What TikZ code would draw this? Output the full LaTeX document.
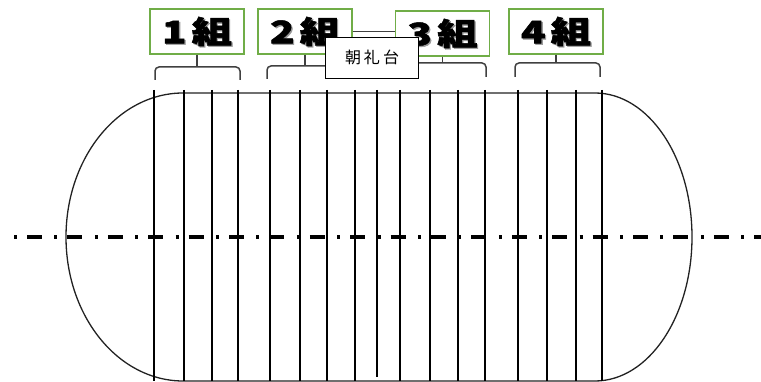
\documentclass[tikz,border=0pt]{standalone}
\usepackage{fontspec}
\newfontfamily\cjk{Noto Sans CJK JP}
\definecolor{boxgreen}{HTML}{70AD47}
\definecolor{brk}{HTML}{404040}
\definecolor{trackc}{HTML}{222222}
\newcommand{\grplabel}[1]{\scalebox{1.3}[1]{\cjk\bfseries\addfontfeatures{FakeBold=1.6}\fontsize{31}{31}\selectfont #1}}
\begin{document}
\begin{tikzpicture}[x=1pt,y=-1pt,
  grp/.style={draw=boxgreen,line width=1.2pt,fill=white,minimum width=94pt,minimum height=45pt,inner sep=0pt},
  stagebox/.style={draw=black,line width=0.8pt,fill=white,minimum width=93pt,minimum height=41pt,inner sep=0pt,font=\cjk\fontsize{16}{16}\selectfont},
  lane/.style={line width=2.8pt,black},
  thinlane/.style={line width=1.5pt,black},
  bracestyle/.style={draw=brk,line width=1.5pt,rounded corners=4pt},
  track/.style={draw=trackc,line width=1.3pt},
  centerline/.style={line width=3.5pt,black,dash pattern=on 3pt off 10pt on 15pt off 12.4pt}
]
\useasboundingbox (0,0) rectangle (761,382);

% track outline
\draw[track] (183,93) -- (595,93)
  arc[start angle=-90,end angle=90,x radius=97,y radius=144]
  -- (183,381)
  arc[start angle=90,end angle=270,x radius=117,y radius=144] -- cycle;

% lanes
\foreach \x in {154,184,212,238,270,300,327,355,400,430,458,485,518,547,576,602}
  \draw[lane] (\x,90) -- (\x,381);
\draw[thinlane] (377,90) -- (377,377);

% centre line
\coordinate (cl1) at (14,237);
\coordinate (cl2) at (761,237);
\draw[centerline] (cl1) -- (cl2);

% group boxes
\node[grp] (g1) at (197,31.5) {};
\node[grp] (g2) at (305,31.5) {};
\node[grp] (g3) at (442.5,33.5) {};
\node[grp] (g4) at (556,31.5) {};

\draw[brk,line width=1.4pt] (g2.east) -- (g2.east -| g3.west);

\foreach \n/\t in {g1/1,g2/2,g3/3,g4/4}{
  \node[text=black!40] at ([shift={(1.3,1.3)}]\n.center) {\grplabel{\t\hspace{4pt}組}};
  \node[text=black] (\n t) at (\n.center) {\grplabel{\t\hspace{4pt}組}};
}

% brackets
\draw[bracestyle] (155,80) -- (155,67) -- (240,67) -- (240,80);
\draw[brk,line width=1.5pt] (g1.south) -- (g1.south |- 0,67);
\draw[bracestyle] (267,79) -- (267,66) -- (353,66) -- (353,79);
\draw[brk,line width=1.5pt] (g2.south) -- (g2.south |- 0,66);
\draw[bracestyle] (400,77) -- (400,63) -- (486,63) -- (486,77);
\draw[brk,line width=1.5pt] (g3.south) -- (g3.south |- 0,63);
\draw[bracestyle] (515,77) -- (515,63) -- (600,63) -- (600,77);
\draw[brk,line width=1.5pt] (g4.south) -- (g4.south |- 0,63);

% stage
\node[stagebox] (stage) at (372,57.5) {朝\hspace{3pt}礼\hspace{3pt}台};
\end{tikzpicture}
\end{document}
